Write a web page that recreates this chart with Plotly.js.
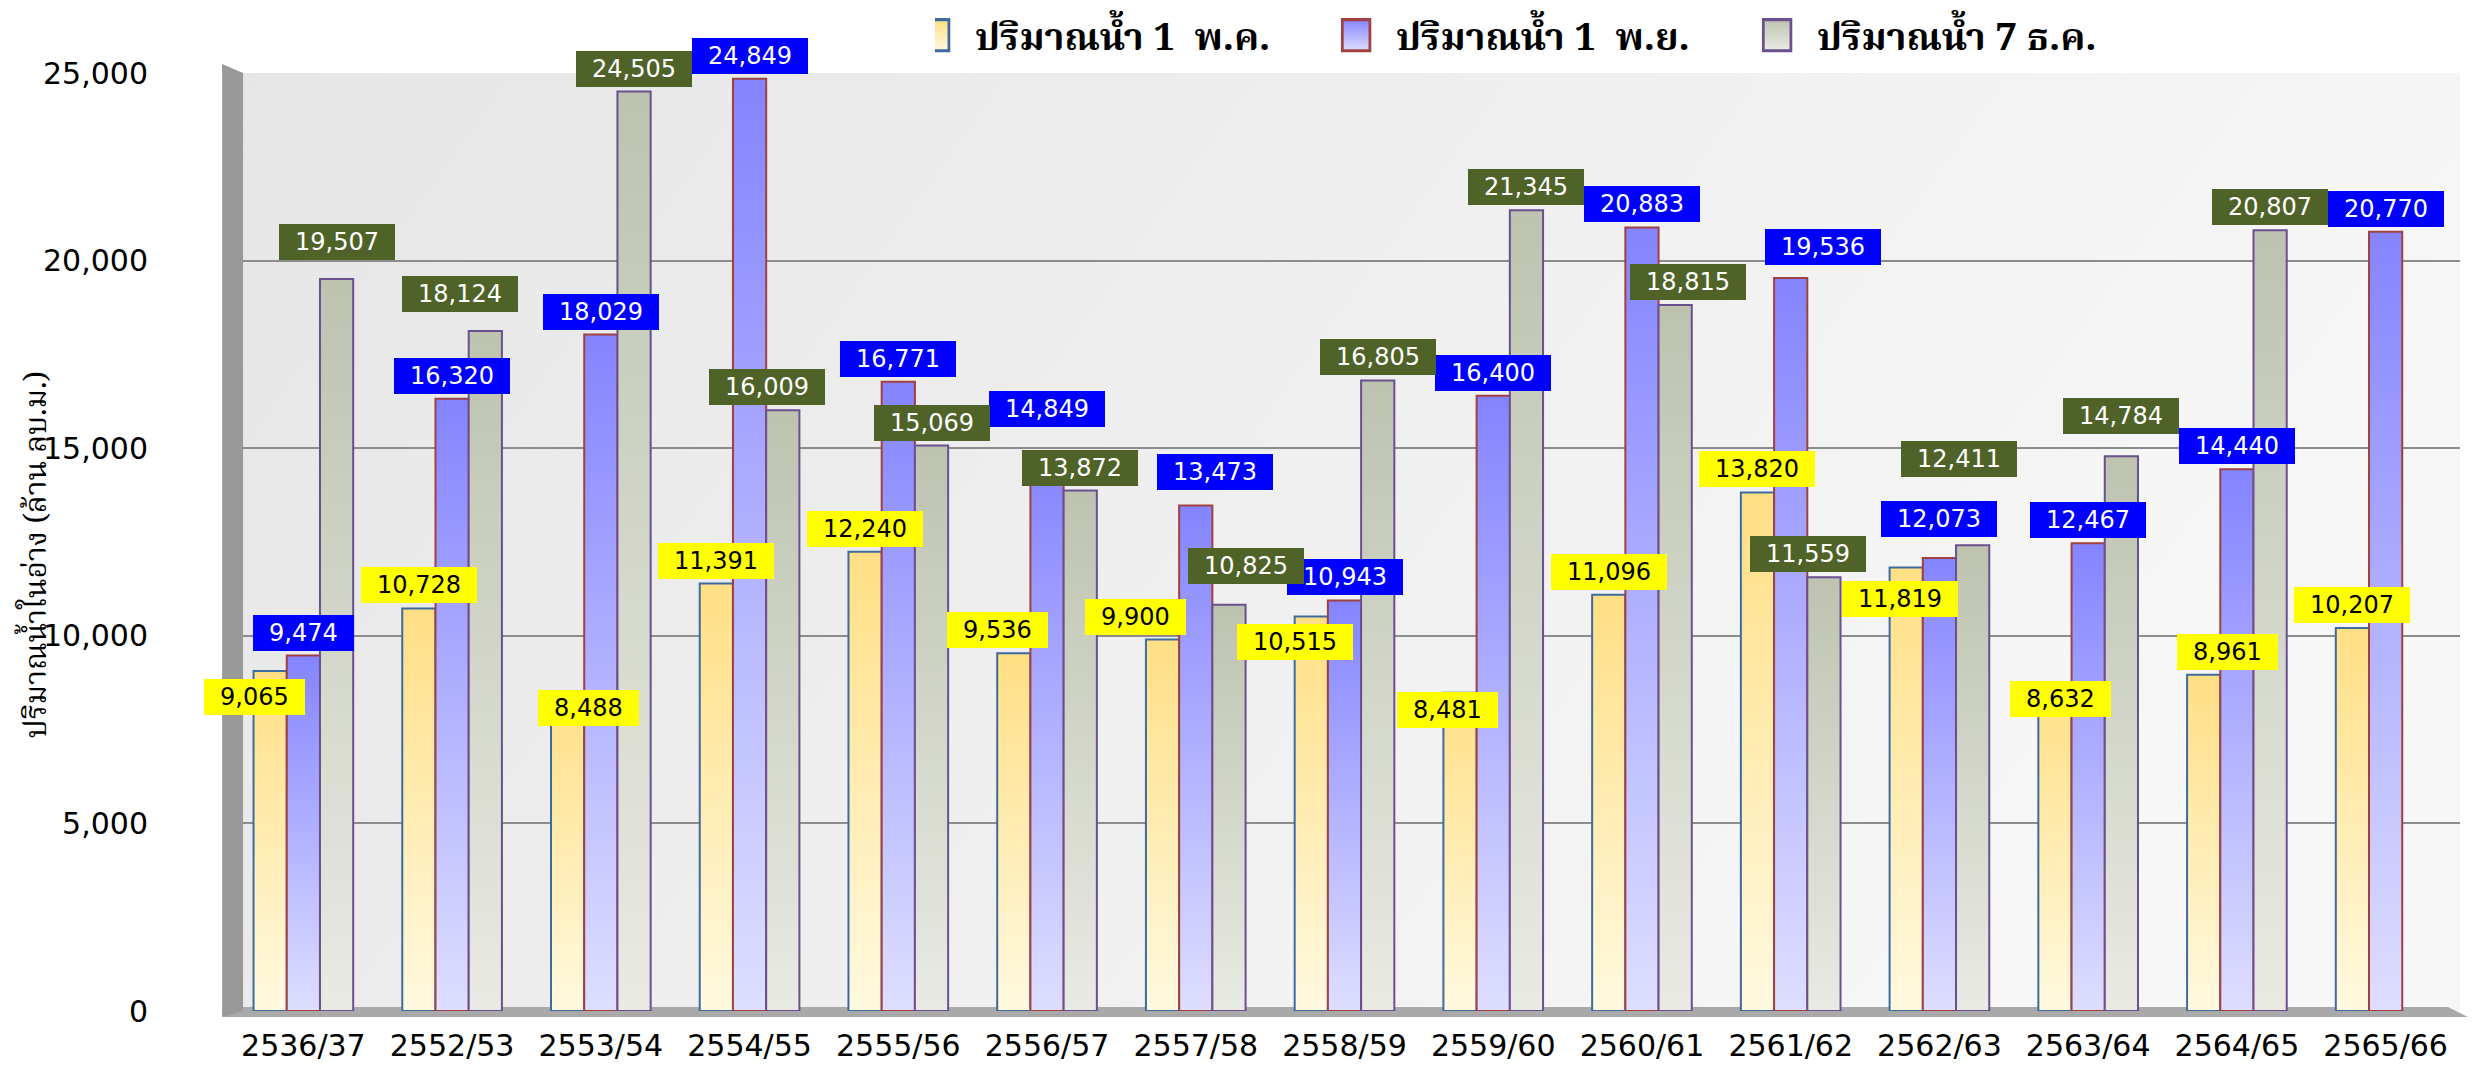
<!DOCTYPE html>
<html>
<head>
<meta charset="utf-8">
<script src="https://cdn.plot.ly/plotly-3.0.1.min.js"></script>
<style>
  html, body { margin: 0; padding: 0; background: #ffffff; }
  #chart { width: 2486px; height: 1069px; }
</style>
</head>
<body>
<div id="chart"></div>
<script>
// ---- data ----
const categories = ['2536/37','2552/53','2553/54','2554/55','2555/56','2556/57','2557/58','2558/59','2559/60','2560/61','2561/62','2562/63','2563/64','2564/65','2565/66'];
const seriesNames = ['ปริมาณน้ำ 1  พ.ค.', 'ปริมาณน้ำ 1  พ.ย.', 'ปริมาณน้ำ 7 ธ.ค.'];
const mayValues = [9065,10728,8488,11391,12240,9536,9900,10515,8481,11096,13820,11819,8632,8961,10207];
const novValues = [9474,16320,18029,24849,16771,14849,13473,10943,16400,20883,19536,12073,12467,14440,20770];
const decValues = [19507,18124,24505,16009,15069,13872,10825,16805,21345,18815,11559,12411,14784,20807,null];
const yTickValues = [0,5000,10000,15000,20000,25000];
const yTickLabels = ['0','5,000','10,000','15,000','20,000','25,000'];
const yTitle = 'ปริมาณน้ำในอ่าง (ล้าน ลบ.ม.)';

// ---- styles ----
const thaiFont = '"Noto Serif Thai", "Noto Sans Thai", "Tlwg Typo", Garuda, Loma, "DejaVu Serif", serif';
const numFont = '"DejaVu Sans", Verdana, sans-serif';
const barGap = 0.33;
const styles = [
  {fill:'#FFE9A0', line:'#3E6B9E', box:'#FFFF00', txt:'#000000', g:['#FFDF85','#FFF9E0']},
  {fill:'#AAAAFF', line:'#A04040', box:'#0000FF', txt:'#FFFFFF', g:['#8484FF','#DEDEFF']},
  {fill:'#D5D9CB', line:'#6A5090', box:'#4F6228', txt:'#FFFFFF', g:['#BDC3AF','#E9EAE4']}
];
// label nudges in px: [series-category] -> [dx, dy(down)]
const nudge = {
  '0-0':[-16,49], '0-2':[21,38], '0-5':[-16,0], '0-6':[-27,0], '0-7':[-16,49], '0-8':[-13,40],
  '0-11':[-6,54], '0-12':[6,35], '0-13':[24,0],
  '1-5':[0,-22], '1-6':[19,-10], '1-10':[32,-8], '1-11':[0,-16],
  '2-0':[0,-14], '2-1':[-25,-14], '2-3':[-16,0], '2-6':[17,-16], '2-9':[13,0], '2-10':[-16,0],
  '2-11':[-14,-63], '2-12':[0,-17]
};

const allSeries = [mayValues, novValues, decValues];
const traces = allSeries.map((vals, s) => ({
  type:'bar', name: seriesNames[s], x: categories, y: vals,
  marker:{color: styles[s].fill, line:{color: styles[s].line, width:2}},
  hoverinfo:'skip'
}));

const annotations = [];
const slotW = (1 - barGap) / 3;
allSeries.forEach((vals, s) => {
  vals.forEach((v, i) => {
    if (v === null) return;
    const nd = nudge[s + '-' + i] || [0, 0];
    annotations.push({
      x: i + (s - 1) * slotW, y: v, xref:'x', yref:'y',
      text: '\u2002' + v.toLocaleString('en-US') + '\u2002',
      showarrow:false, yanchor:'bottom', xanchor:'center',
      xshift: nd[0], yshift: 5 - nd[1],
      bgcolor: styles[s].box, borderpad: 4, borderwidth: 0,
      font:{family: numFont, size: 24, color: styles[s].txt}
    });
  });
});
// y axis title
annotations.push({
  xref:'paper', yref:'paper', x:-0.0855, y:0.486, xanchor:'center', yanchor:'middle',
  text: yTitle, textangle:-90, showarrow:false,
  font:{family: thaiFont, size: 30, color:'#000'}
});

const layout = {
  width: 2486, height: 1069,
  margin:{l:229, r:26, t:73, b:58, autoexpand:false},
  paper_bgcolor:'#FFFFFF', plot_bgcolor:'#EEEEEE',
  barmode:'group', bargap: barGap, bargroupgap: 0,
  showlegend:true,
  legend:{orientation:'h', x:0.3165, y:1.04, xanchor:'left', yanchor:'middle',
          font:{family: thaiFont, size: 38, color:'#000', weight:'bold'}, entrywidth: 376, bgcolor:'rgba(0,0,0,0)'},
  xaxis:{type:'category', range:[-0.5, 14.5], autorange:false, automargin:false,
         tickfont:{family: numFont, size: 30, color:'#000'},
         showgrid:false, zeroline:false, showline:false, ticks:'', ticklabelstandoff: 14, fixedrange:true},
  yaxis:{range:[0,25000], automargin:false, tickvals: yTickValues, ticktext: yTickLabels,
         tickfont:{family: numFont, size: 30, color:'#000'},
         showgrid:true, gridcolor:'#8C8C8C', gridwidth:2, zeroline:false, showline:false,
         ticks:'', ticklabelstandoff: 80, fixedrange:true},
  annotations: annotations,
  shapes:[
    {type:'path', xref:'paper', yref:'paper',
     path:'M -0.0031 -0.0064 L 0.0063 0 L 0.0063 1 L -0.0031 1.0096 Z',
     fillcolor:'#999999', line:{width:0}, layer:'above'},
    {type:'path', xref:'paper', yref:'paper',
     path:'M -0.0031 -0.0064 L 1.0036 -0.0064 L 0.9946 0.0043 L 0.0063 0.0043 Z',
     fillcolor:'#A9A9A9', line:{width:0}, layer:'below'}
  ]
};

Plotly.newPlot('chart', traces, layout, {displayModeBar:false, staticPlot:true}).then(gd => {
  const svg = gd.querySelector('svg.main-svg');
  const NS = 'http://www.w3.org/2000/svg';
  let defs = svg.querySelector('defs');
  if (!defs) { defs = document.createElementNS(NS, 'defs'); svg.insertBefore(defs, svg.firstChild); }
  function grad(id, c1, c2, x2, y2) {
    const lg = document.createElementNS(NS, 'linearGradient');
    lg.setAttribute('id', id); lg.setAttribute('x1','0'); lg.setAttribute('y1','0');
    lg.setAttribute('x2', x2); lg.setAttribute('y2', y2);
    [[0,c1],[1,c2]].forEach(([o,c]) => {
      const st = document.createElementNS(NS, 'stop');
      st.setAttribute('offset', o); st.setAttribute('stop-color', c); lg.appendChild(st);
    });
    defs.appendChild(lg);
  }
  styles.forEach((st, s) => grad('barGrad' + s, st.g[0], st.g[1], '0', '1'));
  grad('bgGrad', '#E6E6E6', '#F7F7F7', '1', '0.3');
  const bg = gd.querySelector('.bglayer rect.bg');
  if (bg) bg.style.fill = 'url(#bgGrad)';
  gd.querySelectorAll('.barlayer .trace').forEach((tr, s) => {
    tr.querySelectorAll('path').forEach(p => { p.style.fill = 'url(#barGrad' + s + ')'; });
  });
  // enlarge legend swatches to tall boxes like the reference
  gd.querySelectorAll('.legend .traces').forEach((tr, s) => {
    tr.querySelectorAll('.legendpoints path').forEach(p => {
      p.setAttribute('transform', 'scale(2.3,2.6)');
      p.style.fill = 'url(#barGrad' + s + ')';
      p.style.strokeWidth = '1.2px';
    });
  });
});
</script>
</body>
</html>
